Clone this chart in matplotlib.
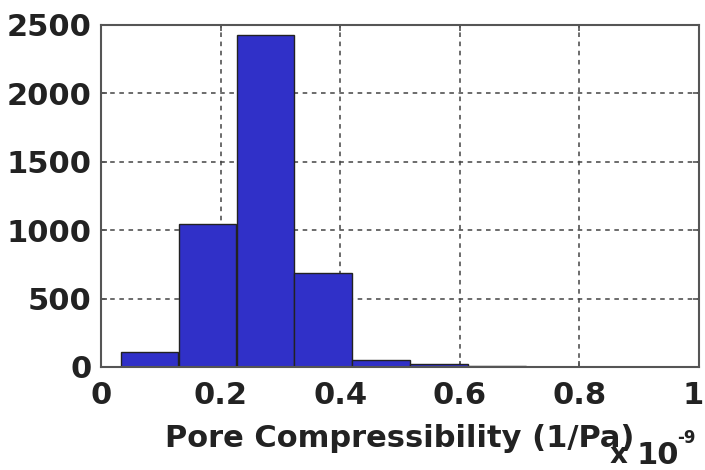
import numpy as np
import matplotlib.pyplot as plt
from matplotlib.transforms import ScaledTranslation

# Histogram of pore compressibility (x axis in units of 1e-9 1/Pa)
bin_centers = [0.081, 0.178, 0.275, 0.371, 0.468, 0.565, 0.662, 0.758, 0.855, 0.952]
bin_width = 0.0967
counts = [112, 1045, 2430, 685, 51, 20, 5, 3, 2, 1]

x_ticks = [0, 0.2, 0.4, 0.6, 0.8, 1]
x_tick_labels = ['0', '0.2', '0.4', '0.6', '0.8', '1']
y_ticks = [0, 500, 1000, 1500, 2000, 2500]


def main():
    plt.rcParams['font.family'] = 'DejaVu Sans'
    plt.rcParams['font.weight'] = 'bold'

    fig = plt.figure(figsize=(7.05, 4.7), dpi=100)
    ax = fig.add_axes([101/705, 1 - 367/470, 598/705, 342/470])

    ax.bar(bin_centers, counts, width=bin_width, color='#3030c8',
           edgecolor='#222222', linewidth=1.0, zorder=3)

    ax.set_xlim(0, 1)
    ax.set_ylim(0, 2500)
    ax.set_xticks(x_ticks)
    ax.set_xticklabels(x_tick_labels)
    ax.set_yticks(y_ticks)

    # Dashed grid behind the bars
    ax.grid(True, color='#444444', linestyle=(0, (3, 3)), linewidth=1.1, zorder=0)
    ax.set_axisbelow(True)

    for s in ax.spines.values():
        s.set_color('#555555')
        s.set_linewidth(1.5)
        s.set_zorder(4)

    ax.tick_params(direction='in', length=4, width=1.2, color='#555555',
                   top=True, right=True, labelsize=22, labelcolor='#222222')
    ax.tick_params(axis='x', pad=10)
    ax.tick_params(axis='y', pad=7)

    # keep the last x label inside the figure
    last = ax.get_xticklabels()[-1]
    last.set_transform(last.get_transform() +
                       ScaledTranslation(-6/100, 0, fig.dpi_scale_trans))

    ax.set_xlabel('Pore Compressibility (1/Pa)', fontsize=22,
                  fontweight='bold', color='#222222', labelpad=10)

    # Axis scale factor written beside the label
    fig.text(610/705, 1 - 463/470, 'x', fontsize=20, fontweight='bold',
             color='#222222', va='baseline', ha='left')
    fig.text(637/705, 1 - 464/470, '10', fontsize=22, fontweight='bold',
             color='#222222', va='baseline', ha='left')
    fig.text(677/705, 1 - 443/470, '-9', fontsize=12, fontweight='bold',
             color='#222222', va='baseline', ha='left')

    fig.savefig('out.png', dpi=100)


main()
